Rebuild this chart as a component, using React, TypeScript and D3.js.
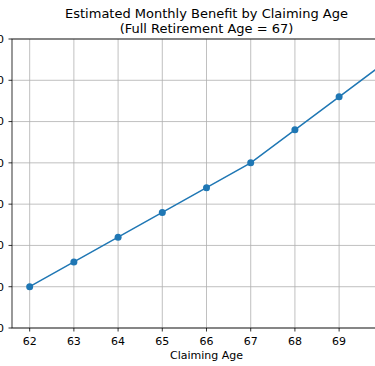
import * as d3 from "d3";

const ages = [62, 63, 64, 65, 66, 67, 68, 69, 70];
const benefits = [1400, 1520, 1640, 1760, 1880, 2000, 2160, 2320, 2480];
const yTicks = [1200, 1400, 1600, 1800, 2000, 2200, 2400, 2600];
const xTicks = [62, 63, 64, 65, 66, 67, 68, 69, 70];

const W = 375;
const H = 366;
const m = { left: 12, right: 401, top: 39, bottom: 328 };

export default function App() {
  const x = d3.scaleLinear().domain([61.6, 70.4]).range([m.left, m.right]);
  const y = d3.scaleLinear().domain([1200, 2600]).range([m.bottom, m.top]);

  const line = d3
    .line<number>()
    .x((_, i) => x(ages[i]))
    .y((d) => y(d));

  const font = "DejaVu Sans, sans-serif";
  const cx = (m.left + m.right) / 2;

  return (
    <svg
      width={W}
      height={H}
      style={{ position: "absolute", left: 0, top: 0, background: "#fff" }}
      fontFamily={font}
    >
      {/* grid */}
      {xTicks.map((t) => (
        <line key={"gx" + t} x1={x(t)} x2={x(t)} y1={m.top} y2={m.bottom} stroke="#b0b0b0" strokeWidth={0.8} />
      ))}
      {yTicks.map((t) => (
        <line key={"gy" + t} x1={m.left} x2={m.right} y1={y(t)} y2={y(t)} stroke="#b0b0b0" strokeWidth={0.8} />
      ))}

      {/* series */}
      <path d={line(benefits) ?? ""} fill="none" stroke="#1f77b4" strokeWidth={1.5} />
      {benefits.map((v, i) => (
        <circle key={i} cx={x(ages[i])} cy={y(v)} r={3.5} fill="#1f77b4" />
      ))}

      {/* spines */}
      <rect x={m.left} y={m.top} width={m.right - m.left} height={m.bottom - m.top} fill="none" stroke="#000" strokeWidth={0.8} />

      {/* y ticks (labels fall mostly outside the crop, as in the reference) */}
      {yTicks.map((t) => (
        <g key={"yt" + t}>
          <line x1={m.left - 3.5} x2={m.left} y1={y(t)} y2={y(t)} stroke="#000" strokeWidth={0.8} />
          <text x={m.left - 8} y={y(t)} dy="0.35em" textAnchor="end" fontSize={11} fill="#000">
            {t}
          </text>
        </g>
      ))}

      {/* x ticks */}
      {xTicks.map((t) => (
        <g key={"xt" + t}>
          <line x1={x(t)} x2={x(t)} y1={m.bottom} y2={m.bottom + 3.5} stroke="#000" strokeWidth={0.8} />
          <text x={x(t)} y={345} textAnchor="middle" fontSize={11} fill="#000">
            {t}
          </text>
        </g>
      ))}

      <text x={cx} y={359} textAnchor="middle" fontSize={11} fill="#000">
        Claiming Age
      </text>

      <text x={cx} y={18} textAnchor="middle" fontSize={13} fill="#000">
        Estimated Monthly Benefit by Claiming Age
      </text>
      <text x={cx} y={33} textAnchor="middle" fontSize={13} fill="#000">
        (Full Retirement Age = 67)
      </text>
    </svg>
  );
}
